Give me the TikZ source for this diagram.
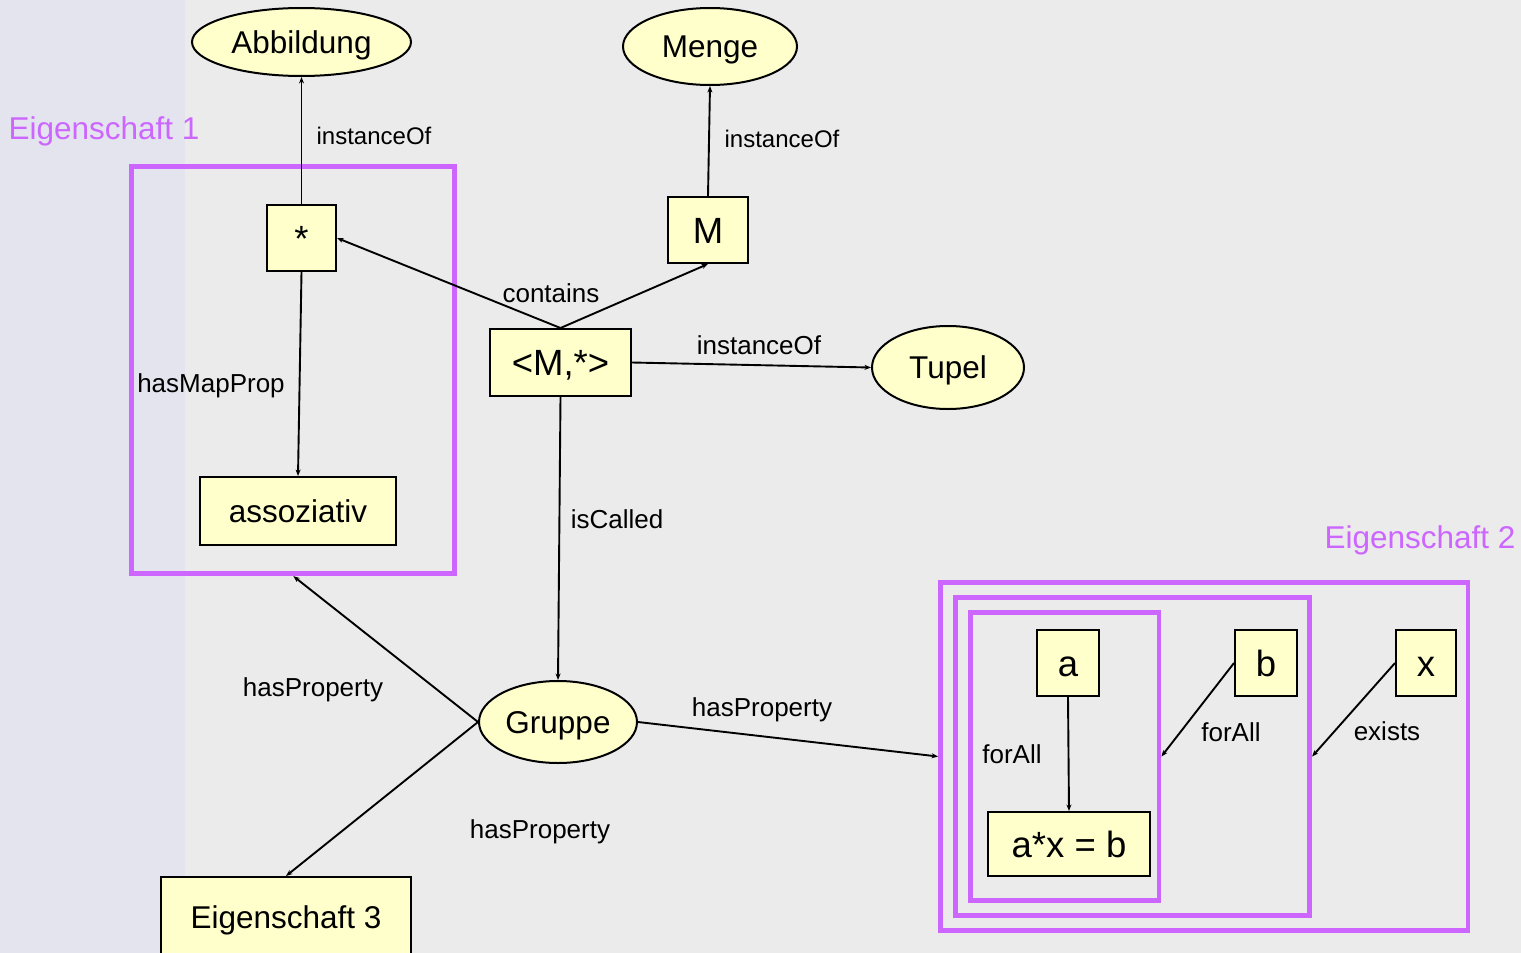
\documentclass[tikz,border=0pt]{standalone}
\usepackage{fontspec}
\setmainfont{Liberation Sans}
\usetikzlibrary{shapes.geometric,arrows.meta}
\definecolor{bgmain}{RGB}{235,235,235}
\definecolor{bgside}{RGB}{228,228,238}
\definecolor{nodefill}{RGB}{255,255,204}
\definecolor{propviolet}{RGB}{204,102,255}
\tikzset{
  concept/.style={ellipse, draw, fill=nodefill, line width=2pt, inner sep=0pt,
    font=\fontsize{31.5}{36}\selectfont, text height=22.5pt, text depth=0pt},
  term/.style={rectangle, draw, fill=nodefill, line width=2pt, inner sep=0pt,
    font=\fontsize{31.5}{36}\selectfont, text height=22.5pt, text depth=0pt},
  symbol/.style={term, font=\fontsize{36.5}{40}\selectfont, text height=26pt},
  scopebox/.style={rectangle, draw=propviolet, line width=4.8pt, inner sep=0pt},
  rel/.style={line width=1.9pt, -{Stealth[length=6.5pt,width=5pt]}},
  relname/.style={anchor=base, inner sep=0pt, font=\fontsize{26}{30}\selectfont},
  relsmall/.style={relname, font=\fontsize{24}{28}\selectfont},
  scopename/.style={anchor=base, inner sep=0pt, text=propviolet,
    font=\fontsize{31.5}{36}\selectfont},
}
\begin{document}
\begin{tikzpicture}[x=1pt,y=-1pt]
% background
\useasboundingbox (0,0) rectangle (1521,953);
\fill[bgmain] (0,0) rectangle (1521,953);
\fill[bgside] (0,0) rectangle (185,953);

% property frames
\node[scopebox, minimum width=323pt, minimum height=407pt] (prop1) at (293.3,370.2) {};
\node[scopebox, minimum width=527.5pt, minimum height=347.6pt] (outer) at (1204.25,756.5) {};
\node[scopebox, minimum width=354.1pt, minimum height=317.6pt] (middle) at (1132.65,756.5) {};
\node[scopebox, minimum width=188.4pt, minimum height=287.6pt] (inner) at (1064.8,756.5) {};

% concepts
\node[concept, minimum width=219pt, minimum height=68pt] (abb) at (301.5,42) {Abbildung};
\node[concept, minimum width=174pt, minimum height=77pt] (menge) at (710,46.5) {Menge};
\node[concept, minimum width=152pt, minimum height=83pt] (tupel) at (948,367.5) {Tupel};
\node[concept, minimum width=158pt, minimum height=82pt] (gruppe) at (558,722) {Gruppe};

% terms
\node[symbol, minimum width=69pt, minimum height=66pt] (star) at (301.5,238) {*};
\node[symbol, minimum width=80pt, minimum height=66pt] (m) at (708,230) {M};
\node[symbol, minimum width=141pt, minimum height=67pt] (pair) at (560.5,362.5) {<M,*>};
\node[term, minimum width=196pt, minimum height=68pt] (assoz) at (298,511) {assoziativ};
\node[term, minimum width=250pt, minimum height=80pt] (eig3) at (286,917) {Eigenschaft 3};
\node[symbol, minimum width=62pt, minimum height=66pt] (a) at (1068,663) {a};
\node[symbol, minimum width=62pt, minimum height=66pt] (b) at (1266,663) {b};
\node[symbol, minimum width=60pt, minimum height=66pt] (x) at (1426,663) {x};
\node[symbol, minimum width=162pt, minimum height=64pt] (axb) at (1069,844) {a*x = b};

% relations
\draw[rel] (star.north) -- (abb.south);
\draw[rel] (m.north) -- (menge.south);
\draw[rel] (pair.north) -- (m.south);
\draw[rel] (pair.north) -- (star.east);
\draw[rel] (pair.east) -- (tupel.west);
\draw[rel] (pair.south) -- (gruppe.north);
\draw[rel] (star.south) -- (assoz.north);
\draw[rel] (gruppe.west) -- (prop1.south);
\draw[rel] (gruppe.west) -- (eig3.north);
\draw[rel] (gruppe.east) -- (outer.west);
\draw[rel] (a.south) -- (axb.north);
\draw[rel] (b.west) -- (inner.east);
\draw[rel] (x.west) -- (middle.east);

% relation names
\node[relsmall] (l1) at (374,144) {instanceOf};
\node[relsmall] (l2) at (782,147) {instanceOf};
\node[relname] (l3) at (551,302.7) {contains};
\node[relname] (l4) at (759,354) {instanceOf};
\node[relname] (l5) at (211,392) {hasMapProp};
\node[relname] (l6) at (617,528) {isCalled};
\node[relname] (l7) at (313,696) {hasProperty};
\node[relname] (l8) at (540,838.7) {hasProperty};
\node[relname] (l9) at (762,716) {hasProperty};
\node[relname] (l10) at (1012,763.3) {forAll};
\node[relname] (l11) at (1231,741.7) {forAll};
\node[relname] (l12) at (1387,740.7) {exists};

% frame captions
\node[scopename] (c1) at (104,139) {Eigenschaft 1};
\node[scopename] (c2) at (1420,548) {Eigenschaft 2};
\end{tikzpicture}
\end{document}
